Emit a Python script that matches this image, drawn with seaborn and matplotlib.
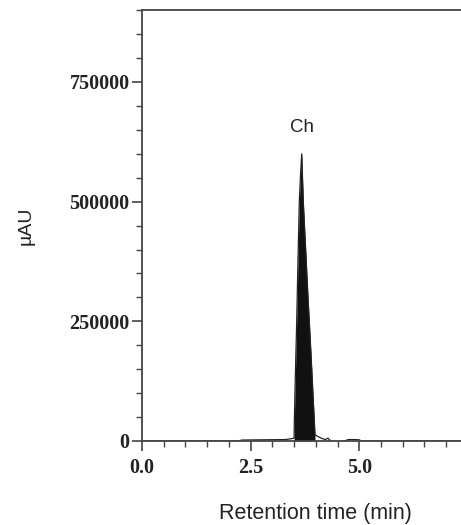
import matplotlib
matplotlib.use("Agg")
import matplotlib.pyplot as plt
import seaborn as sns
import numpy as np
from matplotlib.ticker import MultipleLocator, FixedLocator

# ---- data ----
time_min = [0.00, 1.00, 2.20, 2.30, 2.80, 3.30, 3.45, 3.50, 3.505, 3.53, 3.56, 3.59,
            3.62, 3.65, 3.676, 3.69, 3.712, 3.75, 3.78, 3.82, 3.85, 3.89, 3.92,
            3.95, 3.98, 4.00, 4.08, 4.15, 4.22, 4.28, 4.32, 4.38, 4.50, 4.65,
            4.75, 4.90, 5.00, 5.05, 6.00, 7.50]
signal_uau = [0, 0, 0, 2000, 2500, 3000, 5000, 6000, 40000, 140000, 250000, 380000,
              500000, 560000, 600000, 560000, 500000, 430000, 375000, 300000, 250000,
              180000, 125000, 70000, 15000, 12000, 8000, 5000, 3000, 6000, 2000,
              -1000, -2000, 0, 3000, 3000, 2500, 0, 0, 0]
peak_start, peak_end = 3.50, 3.99
peak_label = "Ch"
peak_label_pos = (3.68, 655000)
y_ticks = [0, 250000, 500000, 750000]
x_ticks = [0.0, 2.5, 5.0]

sns.set_style("ticks")
plt.rcParams['font.family'] = ['Liberation Sans', 'DejaVu Sans']

fig = plt.figure(figsize=(4.61, 5.25), dpi=100)
fig.patch.set_facecolor("white")
ax = fig.add_axes([142/461, 1-441/525, 325.9/461, 430.8/525])

t = np.array(time_min)
s = np.array(signal_uau)
sns.lineplot(x=t, y=s, ax=ax, color="#222222", linewidth=0.9, sort=False)
mask = (t >= peak_start) & (t <= peak_end)
ax.fill_between(t[mask], 0, s[mask], color="#111111", linewidth=0)

ax.set_xlim(0, 7.5)
ax.set_ylim(0, 900000)

ax.spines['right'].set_visible(False)
for sp in ['left', 'bottom', 'top']:
    ax.spines[sp].set_color("#444444")
    ax.spines[sp].set_linewidth(1.3)

ax.yaxis.set_major_locator(FixedLocator(y_ticks))
ax.yaxis.set_minor_locator(MultipleLocator(50000))
ax.xaxis.set_major_locator(FixedLocator(x_ticks))
ax.xaxis.set_minor_locator(MultipleLocator(0.5))
ax.set_yticklabels([str(v) for v in y_ticks])
ax.set_xticklabels([f"{v:.1f}" for v in x_ticks])

ax.tick_params(axis='both', which='major', direction='out', length=7.5, width=1.2,
               color="#444444", labelsize=14.5, labelcolor="#222222")
ax.tick_params(axis='both', which='minor', direction='out', length=4, width=1.0,
               color="#444444")
ax.tick_params(axis='y', which='major', pad=1.5)
ax.tick_params(axis='x', which='major', pad=5)
for lab in ax.get_xticklabels() + ax.get_yticklabels():
    lab.set_family(['Liberation Serif', 'DejaVu Serif'])
    lab.set_fontweight('bold')

ax.set_xlabel("")
ax.set_ylabel("")
ax.text(peak_label_pos[0], peak_label_pos[1], peak_label, ha='center', va='center',
        fontsize=13.5, color="#222222")

fig.text(26/461, 1-226/525, "µAU", rotation=90, ha='center', va='center',
         fontsize=14, color="#222222")
fig.text(315/461, 1-514/525, "Retention time (min)", ha='center', va='center',
         fontsize=15.5, color="#222222")

fig.savefig("out.png", dpi=100, facecolor="white")
